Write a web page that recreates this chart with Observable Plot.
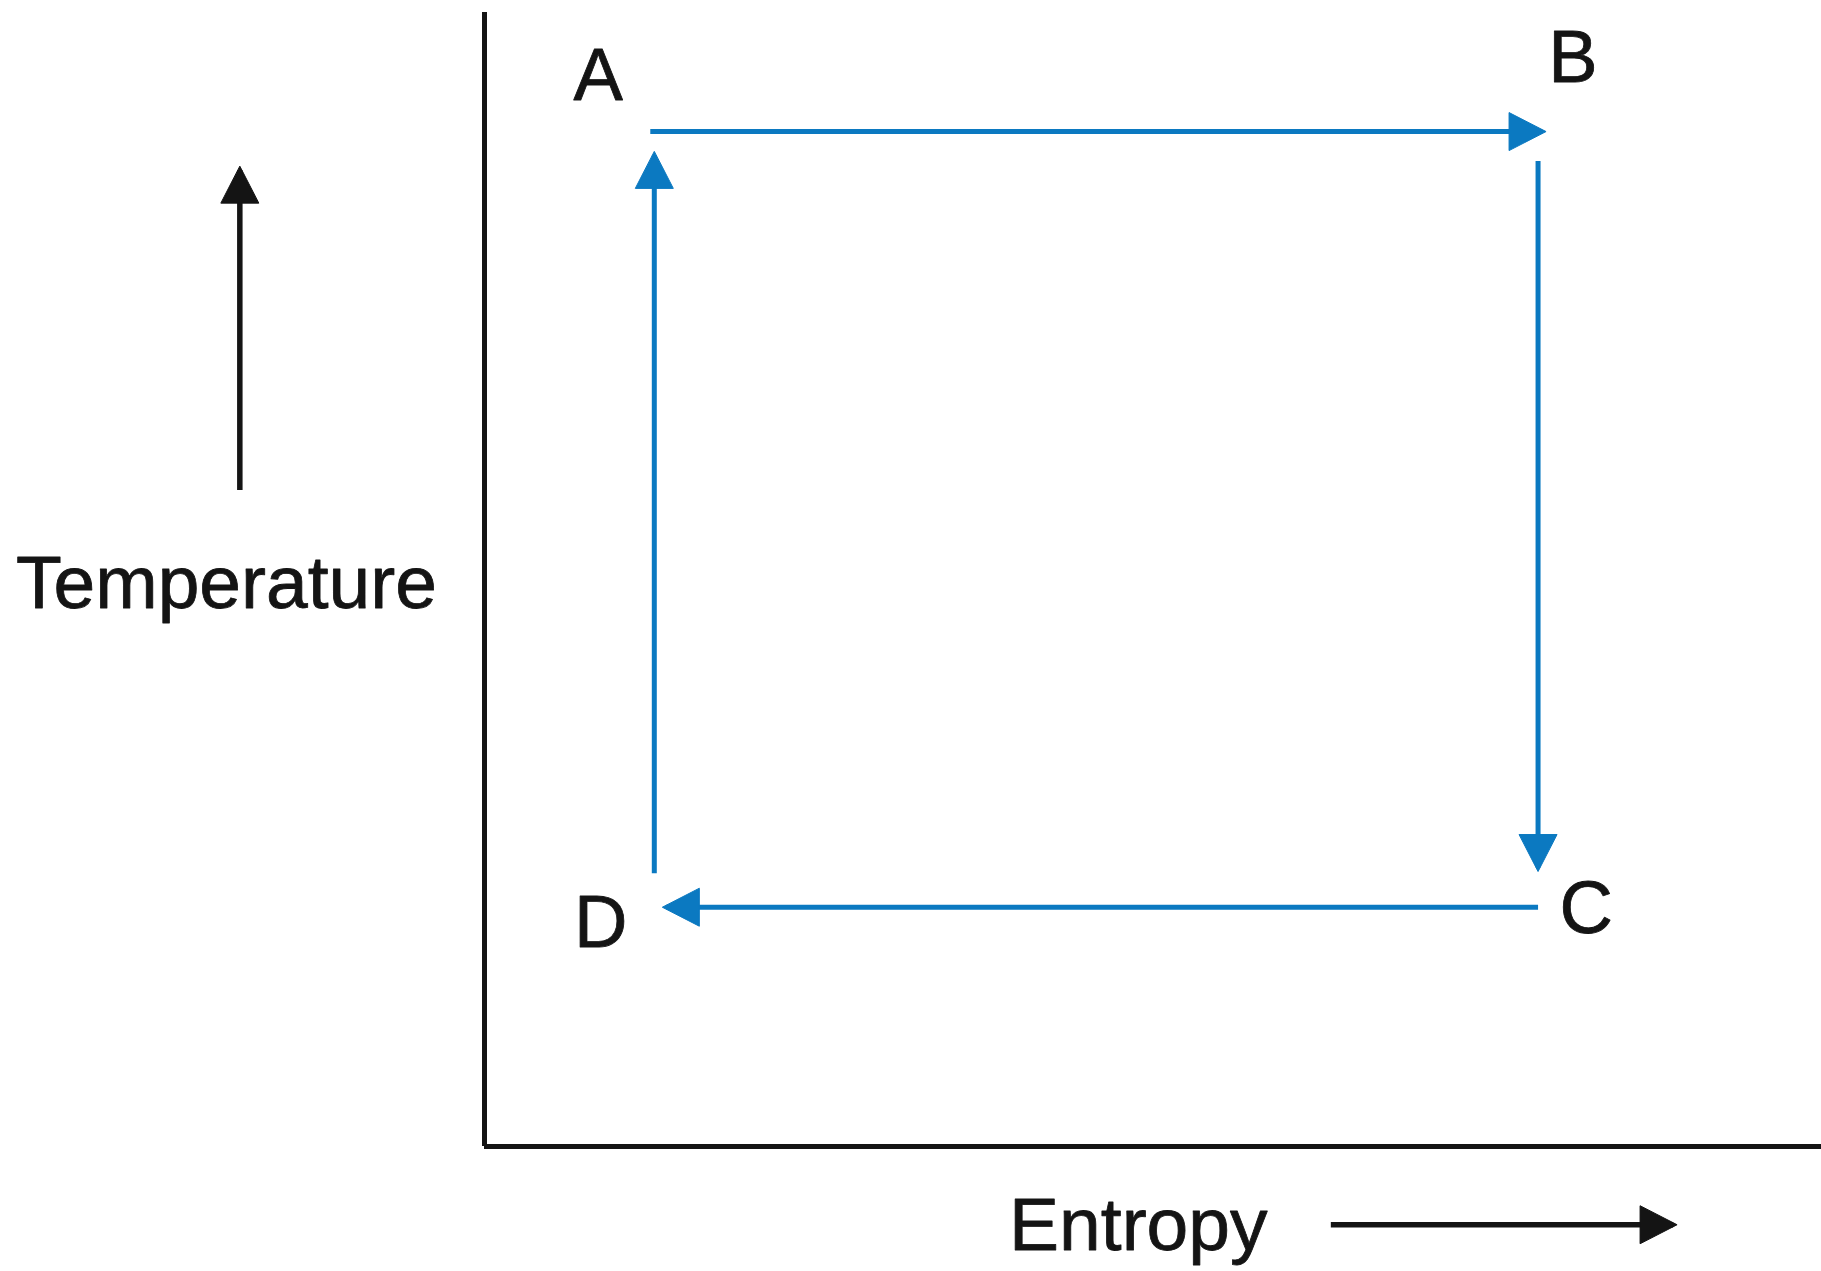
<!DOCTYPE html>
<html>
<head>
<meta charset="utf-8">
<script src="https://cdn.jsdelivr.net/npm/d3@7"></script>
<script src="https://cdn.jsdelivr.net/npm/@observablehq/plot@0.6"></script>
<style>
  html, body { margin: 0; padding: 0; background: #fff; }
</style>
</head>
<body>
<div id="chart"></div>
<script>
// ---- Data (abstract entropy S / temperature T units, axes origin at 0,0) ----
const processes     = ["A→B", "B→C", "C→D", "D→A"];
const startEntropy  = [1.24, 7.88, 7.88, 1.27];
const startTemp     = [8.95, 8.69, 2.11, 2.41];
const endEntropy    = [7.91, 7.88, 1.36, 1.27];
const endTemp       = [8.95, 2.46, 2.11, 8.74];

const stateLabels   = ["A", "B", "C", "D"];
const labelEntropy  = [0.85, 8.14, 8.24, 0.87];
const labelTemp     = [9.44, 9.60, 2.09, 1.97];

const axisTitles    = ["Temperature", "Entropy"];
const titleEntropy  = [-1.93, 4.89];
const titleTemp     = [4.96, -0.70];

const guideStartS   = [-1.83, 6.33];
const guideStartT   = [5.79, -0.69];
const guideEndS     = [-1.83, 8.89];
const guideEndT     = [8.61, -0.69];

const axisMax       = [10, 10];

// ---- Build tables ----
const dirAngle = (x1, y1, x2, y2) =>
  x2 > x1 ? 90 : x2 < x1 ? 270 : y2 < y1 ? 180 : 0;

const cycle = processes.map((p, i) => ({
  process: p,
  x1: startEntropy[i], y1: startTemp[i],
  x2: endEntropy[i], y2: endTemp[i],
  angle: dirAngle(startEntropy[i], startTemp[i], endEntropy[i], endTemp[i])
}));
const states = stateLabels.map((s, i) => ({ s, x: labelEntropy[i], y: labelTemp[i] }));
const titles = axisTitles.map((t, i) => ({ t, x: titleEntropy[i], y: titleTemp[i] }));
const guides = axisTitles.map((t, i) => ({
  x1: guideStartS[i], y1: guideStartT[i], x2: guideEndS[i], y2: guideEndT[i],
  angle: dirAngle(guideStartS[i], guideStartT[i], guideEndS[i], guideEndT[i])
}));

// Filled arrowhead symbol: pointing up (rotated by Plot); shaft end sits inside the head
const arrowHead = {
  draw(context, size) {
    const r = Math.sqrt(size / Math.PI);
    const L = 3.7 * r, hw = 1.9 * r, lead = 0.4 * r;
    context.moveTo(0, -lead);
    context.lineTo(hw, L - lead);
    context.lineTo(-hw, L - lead);
    context.closePath();
  }
};

const blue = "#0b79c1";
const ink = "#141414";

const chart = Plot.plot({
  width: 1821,
  height: 1271,
  margin: 0,
  x: { domain: [0, axisMax[0]], range: [484, 1821], axis: null },
  y: { domain: [0, axisMax[1]], range: [1146, 12], axis: null },
  style: { background: "#fff", fontFamily: "'Liberation Sans', Arial, sans-serif" },
  marks: [
    // axes
    Plot.ruleX([0], { y1: 0, y2: axisMax[1], stroke: ink, strokeWidth: 5 }),
    Plot.ruleY([0], { x1: 0, x2: axisMax[0], stroke: ink, strokeWidth: 5 }),
    // cycle
    Plot.link(cycle, { x1: "x1", y1: "y1", x2: "x2", y2: "y2", stroke: blue, strokeWidth: 5 }),
    Plot.dot(cycle, { x: "x2", y: "y2", rotate: "angle", symbol: arrowHead, r: 10, fill: blue, stroke: blue, strokeWidth: 1 }),
    // state labels
    Plot.text(states, { x: "x", y: "y", text: "s", fontSize: 74, fill: ink, stroke: ink, strokeWidth: 0.8, lineAnchor: "middle" }),
    // axis guides
    Plot.link(guides, { x1: "x1", y1: "y1", x2: "x2", y2: "y2", stroke: ink, strokeWidth: 5.5 }),
    Plot.dot(guides, { x: "x2", y: "y2", rotate: "angle", symbol: arrowHead, r: 10, fill: ink, stroke: ink, strokeWidth: 1 }),
    // axis titles
    Plot.text(titles, { x: "x", y: "y", text: "t", fontSize: 75, fill: ink, stroke: ink, strokeWidth: 0.8, lineAnchor: "middle" })
  ]
});
document.getElementById("chart").appendChild(chart);
</script>
</body>
</html>
